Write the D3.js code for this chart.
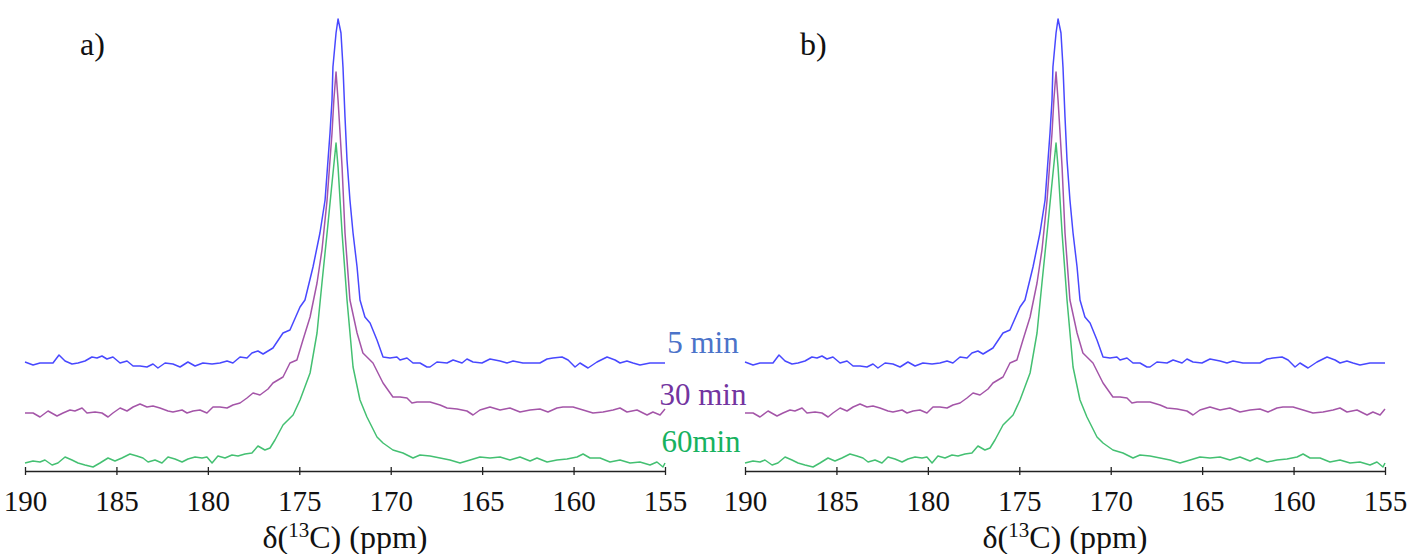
<!DOCTYPE html>
<html>
<head>
<meta charset="utf-8">
<script src="https://cdn.jsdelivr.net/npm/d3@7"></script>
<style>
  html, body { margin: 0; padding: 0; background: #fff; }
  svg { display: block; }
  svg text { font-family: "Liberation Serif", "Times New Roman", Times, serif; }
</style>
</head>
<body>
<svg id="chart" width="1414" height="554" font-family="Liberation Serif, Times New Roman, serif"></svg>
<script>
// ---- DATA (chemical shift in ppm, intensity in arbitrary units, stacked) ----
const seriesNames = ["5 min", "30 min", "60min"];
const panelLabels = ["a)", "b)"];
const tickValues = [190, 185, 180, 175, 170, 165, 160, 155];

const ppm5 = [190.00,189.56,189.18,188.80,188.47,188.14,187.81,187.43,187.10,186.72,186.34,186.06,185.79,185.52,185.19,184.80,184.42,184.09,183.71,183.33,183.00,182.73,182.34,181.91,181.52,181.09,180.70,180.27,179.77,179.34,178.95,178.63,178.24,177.86,177.59,177.26,176.98,176.71,176.44,175.89,175.51,174.96,174.69,174.25,173.87,173.59,173.32,173.21,173.16,172.99,172.88,172.72,172.61,172.50,172.39,172.23,172.06,171.84,171.68,171.41,171.13,170.75,170.42,170.04,169.66,169.49,169.11,168.78,168.40,168.02,167.85,167.47,166.92,166.59,166.10,165.83,165.50,165.01,164.57,164.02,163.64,163.31,162.77,162.22,161.84,161.45,161.13,160.63,160.30,159.92,159.65,159.21,158.72,158.17,157.73,157.46,157.08,156.75,156.37,155.82,155.44,155.00];
const int5 = [109,106,108,108,108,116,110,107,108,110,114,113,115,112,114,108,110,105,105,104,107,103,108,107,104,109,105,108,107,108,110,108,114,113,118,120,117,120,123,138,141,164,171,204,238,271,338,371,404,438,452,438,404,354,311,271,238,204,171,154,148,131,114,113,114,111,113,108,108,104,104,109,108,111,108,112,109,108,112,110,108,110,108,108,108,112,113,114,111,104,108,103,109,114,111,108,110,108,106,108,108,108];

const ppm30 = [190.00,189.56,189.18,188.74,188.25,187.92,187.54,187.27,186.88,186.61,186.17,185.79,185.46,185.19,184.80,184.42,184.09,183.71,183.33,183.00,182.62,182.18,181.91,181.41,181.14,180.81,180.43,180.05,179.72,179.34,178.95,178.63,178.24,177.86,177.53,177.15,176.71,176.44,175.89,175.51,175.13,174.80,174.41,174.03,173.76,173.48,173.32,173.21,173.11,172.99,172.88,172.77,172.66,172.50,172.23,171.84,171.52,170.97,170.42,169.88,169.49,169.11,168.84,168.56,168.23,167.85,167.30,166.92,166.37,165.83,165.50,165.12,164.57,164.02,163.48,162.93,162.38,161.84,161.40,160.91,160.58,160.03,159.48,158.94,158.39,157.84,157.46,157.08,156.53,155.98,155.66,155.27,155.00];
const int30 = [58,58,54,60,55,58,61,60,63,58,59,58,54,58,63,60,64,67,64,65,63,60,59,61,58,60,61,58,64,64,63,66,68,73,78,76,82,88,94,108,111,131,154,188,221,271,311,338,371,399,371,338,304,238,171,138,118,108,88,74,74,73,68,69,69,69,66,63,62,60,56,61,64,61,63,59,61,62,59,63,64,64,61,58,59,61,63,59,61,56,59,56,62];

const ppm60 = [190.00,189.56,189.18,188.91,188.52,188.20,187.81,187.43,187.10,186.72,186.28,185.90,185.46,185.08,184.70,184.26,183.88,183.55,183.27,182.89,182.51,182.18,181.80,181.41,181.09,180.70,180.32,180.05,179.77,179.45,179.06,178.68,178.35,177.97,177.59,177.26,176.88,176.60,176.33,175.89,175.34,174.96,174.41,174.03,173.76,173.48,173.21,172.99,172.88,172.66,172.39,172.06,171.68,171.30,170.75,170.42,169.88,169.33,168.78,168.40,167.85,167.30,166.76,166.21,165.66,165.12,164.57,164.02,163.48,162.93,162.38,162.00,161.45,160.91,160.36,159.81,159.48,159.10,158.55,158.01,157.46,156.91,156.37,155.82,155.44,155.11,155.00];
const int60 = [8,10,9,11,6,8,14,11,8,6,4,8,13,10,13,17,15,13,9,11,8,14,12,9,12,14,13,14,8,15,13,16,15,17,18,25,21,23,31,46,56,71,98,138,188,238,288,328,304,238,171,104,71,54,34,28,21,18,13,16,15,13,11,8,11,14,13,14,11,14,10,13,9,11,12,14,17,13,13,9,11,8,9,6,9,4,8];

const lineColors = ["#4848ff", "#a455a8", "#44c072"];
const labelColors = ["#4b73c9", "#7334a0", "#17b25f"];

// ---- DRAWING ----
const FONT = '"Liberation Serif", "Times New Roman", Times, serif';
const svg = d3.select("#chart");
const series = [
  { ppm: ppm5, val: int5 },
  { ppm: ppm30, val: int30 },
  { ppm: ppm60, val: int60 }
];

const panelWidth = 640;
const panelOffsets = [25, 745];
const axisY = 471;

const y = d3.scaleLinear().domain([0, 460]).range([axisY, 11]);

panelOffsets.forEach((x0, pi) => {
  const x = d3.scaleLinear().domain([190, 155]).range([x0, x0 + panelWidth]);
  const g = svg.append("g");

  const line = d3.line()
    .x(d => x(d[0]))
    .y(d => y(d[1]))
    .curve(d3.curveLinear);

  series.forEach((s, si) => {
    const pts = s.ppm.map((p, i) => [p, s.val[i]]);
    g.append("path")
      .attr("d", line(pts))
      .attr("fill", "none")
      .attr("stroke", lineColors[si])
      .attr("stroke-width", 1.5)
      .attr("stroke-linejoin", "round");
  });

  const axis = d3.axisBottom(x)
    .tickValues(tickValues)
    .tickFormat(d3.format("d"))
    .tickSize(7)
    .tickSizeOuter(0);

  const ag = g.append("g")
    .attr("transform", `translate(0,${axisY})`)
    .call(axis)
    .attr("font-family", FONT);
  ag.select(".domain").attr("stroke", "#222").attr("stroke-width", 1.3);
  ag.selectAll(".tick line").attr("stroke", "#222").attr("stroke-width", 1.3)
    .attr("y1", -4).attr("y2", 4);
  ag.selectAll(".tick text")
    .attr("y", 19)
    .attr("dy", "0.71em")
    .style("font-family", FONT)
    .style("font-size", "29px")
    .attr("fill", "#111");

  // axis title with superscript
  const t = g.append("text")
    .attr("x", x0 + panelWidth / 2)
    .attr("y", 548)
    .attr("text-anchor", "middle")
    .attr("fill", "#111")
    .style("font-family", FONT)
    .style("font-size", "32px");
  t.append("tspan").text("δ(");
  t.append("tspan").text("13").attr("dy", "-11").style("font-size", "21px");
  t.append("tspan").text("C) (ppm)").attr("dy", "11");

  g.append("text")
    .attr("x", x0 + 55)
    .attr("y", 55)
    .attr("fill", "#111")
    .style("font-family", FONT)
    .style("font-size", "32px")
    .text(panelLabels[pi]);
});

// series labels between the panels
const labelPos = [
  { x: 703, y: 353 },
  { x: 703, y: 405 },
  { x: 701, y: 452 }
];
seriesNames.forEach((n, i) => {
  svg.append("text")
    .attr("x", labelPos[i].x)
    .attr("y", labelPos[i].y)
    .attr("text-anchor", "middle")
    .attr("fill", labelColors[i])
    .style("font-family", FONT)
    .style("font-size", "31px")
    .text(n);
});
</script>
</body>
</html>
